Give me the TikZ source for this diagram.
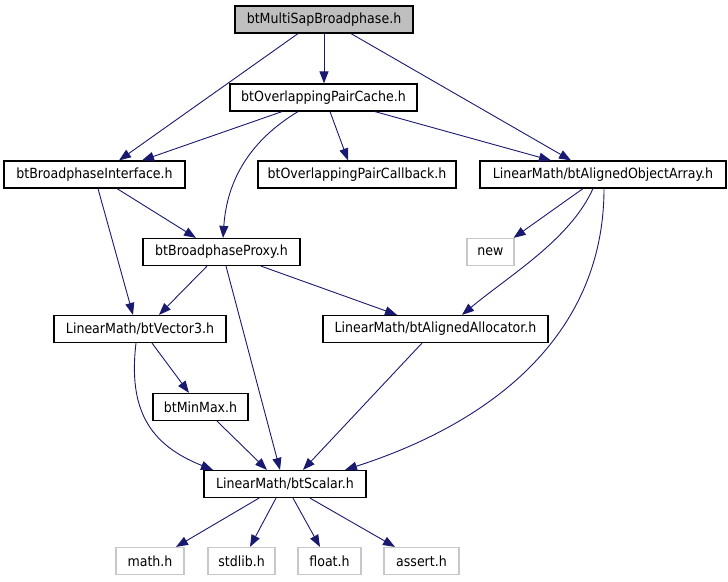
\documentclass[tikz,border=0pt]{standalone}
\usepackage{fontspec}
\setmainfont{DejaVu Sans}[FakeStretch=0.9]
\usetikzlibrary{arrows.meta}
\definecolor{edgeblue}{RGB}{25,25,112}
\definecolor{rootfill}{RGB}{191,191,191}
\definecolor{extgray}{RGB}{200,200,200}
\begin{document}
\begin{tikzpicture}[x=1pt,y=-1pt,
  file/.style={draw=black,line width=1.2pt,minimum height=27pt,inner sep=0pt,
    font=\fontsize{14}{16}\selectfont,text=black},
  rootfile/.style={file,fill=rootfill},
  extfile/.style={file,draw=extgray},
  dep/.style={draw=edgeblue,line width=0.9pt,
    -{Triangle[length=12pt,width=9pt]},fill=none}]
\useasboundingbox (0,0) rectangle (728,581);
% nodes
\node[rootfile,minimum width=178pt] (ms) at (324,19.5) {btMultiSapBroadphase.h};
\node[file,minimum width=187pt] (pc) at (323.5,97.5) {btOverlappingPairCache.h};
\node[file,minimum width=181pt] (bi) at (94.5,174.5) {btBroadphaseInterface.h};
\node[file,minimum width=198pt] (cb) at (357,174.5) {btOverlappingPairCallback.h};
\node[file,minimum width=246pt] (ao) at (603,174.5) {LinearMath/btAlignedObjectArray.h};
\node[extfile,minimum width=47pt] (nw) at (490.5,252) {new};
\node[file,minimum width=157pt] (bp) at (221.5,252) {btBroadphaseProxy.h};
\node[file,minimum width=172pt] (v3) at (140,329) {LinearMath/btVector3.h};
\node[file,minimum width=225pt] (aa) at (435.5,329) {LinearMath/btAlignedAllocator.h};
\node[file,minimum width=95pt] (mm) at (200.5,407) {btMinMax.h};
\node[file,minimum width=162pt] (sc) at (285,484) {LinearMath/btScalar.h};
\node[extfile,minimum width=68pt] (mh) at (150,561) {math.h};
\node[extfile,minimum width=67pt] (sl) at (241.5,561) {stdlib.h};
\node[extfile,minimum width=63pt] (fl) at (329.5,561) {float.h};
\node[extfile,minimum width=75pt] (as) at (421.5,561) {assert.h};
% edges
\draw[dep] ([xshift=-26pt]ms.south) -- ([xshift=24.5pt]bi.north);
\draw[dep] (ms.south) -- (ms.south |- pc.north);
\draw[dep] ([xshift=27pt]ms.south) -- ([xshift=-32pt]ao.north);
\draw[dep] ([xshift=-41.5pt]pc.south) -- ([xshift=47.5pt]bi.north);
\draw[dep] ([xshift=-25.5pt]pc.south) .. controls +(-48,29) and +(4,-58) .. ([xshift=1.5pt]bp.north);
\draw[dep] ([xshift=6.5pt]pc.south) -- ([xshift=-9pt]cb.north);
\draw[dep] ([xshift=51.5pt]pc.south) -- ([xshift=-52pt]ao.north);
\draw[dep] ([xshift=22.5pt]bi.south) -- ([xshift=-25.5pt]bp.north);
\draw[dep] ([xshift=3.5pt]bi.south) -- ([xshift=-7pt]v3.north);
\draw[dep] ([xshift=-20pt]ao.south) -- ([xshift=-1pt]nw.north east);
\draw[dep] ([xshift=-10pt]ao.south) .. controls +(-23,51) and +(48,-40) .. ([xshift=26.5pt]aa.north);
\draw[dep] ([xshift=1pt]ao.south) .. controls +(0,141) and +(155,-50) .. ([xshift=60pt]sc.north);
\draw[dep] ([xshift=-14.5pt]bp.south) -- ([xshift=19pt]v3.north);
\draw[dep] ([xshift=4.5pt]bp.south) -- ([xshift=-5pt]sc.north);
\draw[dep] ([xshift=39.5pt]bp.south) -- ([xshift=-38.5pt]aa.north);
\draw[dep] ([xshift=12pt]v3.south) -- ([xshift=-11.5pt]mm.north);
\draw[dep] ([xshift=-4pt]v3.south) .. controls +(-8,67) and +(-63,-25) .. ([xshift=-72pt]sc.north);
\draw[dep] ([xshift=16.5pt]mm.south) -- ([xshift=-18pt]sc.north);
\draw[dep] ([xshift=-13.5pt]aa.south) -- ([xshift=18pt]sc.north);
\draw[dep] ([xshift=-26pt]sc.south) -- ([xshift=26pt]mh.north);
\draw[dep] ([xshift=-9pt]sc.south) -- ([xshift=8.5pt]sl.north);
\draw[dep] ([xshift=8pt]sc.south) -- ([xshift=-9.5pt]fl.north);
\draw[dep] ([xshift=25pt]sc.south) -- ([xshift=-26.5pt]as.north);
\end{tikzpicture}
\end{document}
